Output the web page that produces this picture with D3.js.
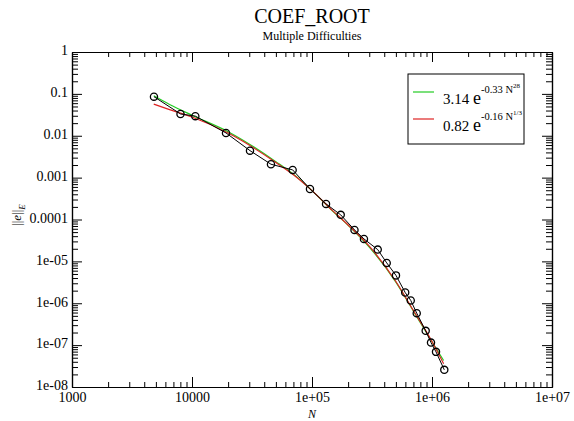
<!DOCTYPE html>
<html><head><meta charset="utf-8">
<script src="https://cdn.jsdelivr.net/npm/d3@7"></script>
<style>
body{margin:0;background:#fff;}
svg{display:block;}
</style></head>
<body><svg id="c" width="574" height="421"></svg>
<script>
// Data
const sampleN = [4820, 8020, 10660, 19200, 30430, 45500, 69000, 96200, 130900, 173500, 226000, 271000, 353000, 419500, 501000, 598000, 665000, 746000, 886000, 981000, 1080000, 1266000];
const sampleErr = [0.0858, 0.0331, 0.0294, 0.01167, 0.00441, 0.00209, 0.00153, 0.000537, 0.000236, 0.000129, 5.65e-5, 3.44e-5, 1.91e-5, 9.2e-6, 4.63e-6, 1.80e-6, 1.17e-6, 5.8e-7, 2.19e-7, 1.15e-7, 6.9e-8, 2.57e-8];
const fitN = [4800, 6500, 10000, 20000, 50000, 70000, 100000, 150000, 200000, 300000, 500000, 700000, 1000000, 1250000];
const greenFit = [0.090, 0.056, 0.031, 0.0125, 0.0024, 0.00120, 4.9e-4, 1.55e-4, 7.3e-5, 2.2e-5, 3.2e-6, 6.5e-7, 1.20e-7, 4.3e-8];
const redFit = [0.057, 0.042, 0.028, 0.0116, 0.0023, 0.00117, 4.9e-4, 1.58e-4, 7.4e-5, 2.3e-5, 3.3e-6, 6.7e-7, 1.22e-7, 3.6e-8];
const xTickLabels = ["1000", "10000", "1e+05", "1e+06", "1e+07"];
const yTickLabels = ["1e-08", "1e-07", "1e-06", "1e-05", "0.0001", "0.001", "0.01", "0.1", "1"];
const legendLabels = [
  {base: "3.14 ", e: "e", sup: "-0.33 N", sup2: "28"},
  {base: "0.82 ", e: "e", sup: "-0.16 N", sup2: "1/3"}
];
const legendColors = ["#22cc22", "#dd2222"];

const FONT = "'Liberation Serif', 'Times New Roman', 'DejaVu Serif', serif";
const svg = d3.select("#c");
const L = 72, R = 552, T = 52, B = 387;
const x = d3.scaleLog().domain([1000, 1e7]).range([L, R]);
const y = d3.scaleLog().domain([1e-8, 1]).range([B, T]);

const xMajor = [1e3, 1e4, 1e5, 1e6, 1e7];
const yMajor = d3.range(-8, 1).map(e => Math.pow(10, e));
const xMinor = [], yMinor = [];
for (let e = 3; e < 7; e++) for (let k = 2; k <= 9; k++) xMinor.push(k * Math.pow(10, e));
for (let e = -8; e < 0; e++) for (let k = 2; k <= 9; k++) yMinor.push(k * Math.pow(10, e));

function styleAxis(g) {
  g.attr("font-family", FONT);
  g.selectAll("path.domain").attr("stroke", "#000").attr("stroke-width", 1.2);
  g.selectAll(".tick line").attr("stroke", "#000").attr("stroke-width", 1);
  g.selectAll("text").attr("font-size", 14).attr("font-family", FONT).attr("fill", "#000");
}
// bottom
svg.append("g").attr("transform", `translate(0,${B})`)
  .call(d3.axisBottom(x).tickValues(xMajor).tickSize(-10).tickSizeOuter(0).tickPadding(5)
    .tickFormat((d, i) => xTickLabels[i]))
  .call(styleAxis);
svg.append("g").attr("transform", `translate(0,${B})`)
  .call(d3.axisBottom(x).tickValues(xMinor).tickSize(-5).tickSizeOuter(0).tickFormat(""))
  .call(styleAxis);
// top
svg.append("g").attr("transform", `translate(0,${T})`)
  .call(d3.axisTop(x).tickValues(xMajor).tickSize(-10).tickSizeOuter(0).tickFormat(""))
  .call(styleAxis);
svg.append("g").attr("transform", `translate(0,${T})`)
  .call(d3.axisTop(x).tickValues(xMinor).tickSize(-5).tickSizeOuter(0).tickFormat(""))
  .call(styleAxis);
// left
svg.append("g").attr("transform", `translate(${L},0)`)
  .call(d3.axisLeft(y).tickValues(yMajor).tickSize(-10).tickSizeOuter(0).tickPadding(4)
    .tickFormat((d, i) => yTickLabels[i]))
  .call(styleAxis)
  .call(g => g.selectAll("text").attr("dy", "0.2em"));
svg.append("g").attr("transform", `translate(${L},0)`)
  .call(d3.axisLeft(y).tickValues(yMinor).tickSize(-6).tickSizeOuter(0).tickFormat(""))
  .call(styleAxis);
// right
svg.append("g").attr("transform", `translate(${R},0)`)
  .call(d3.axisRight(y).tickValues(yMajor).tickSize(-10).tickSizeOuter(0).tickFormat(""))
  .call(styleAxis);
svg.append("g").attr("transform", `translate(${R},0)`)
  .call(d3.axisRight(y).tickValues(yMinor).tickSize(-6).tickSizeOuter(0).tickFormat(""))
  .call(styleAxis);

// fit curves
const fitLine = d3.line().x(d => x(d[0])).y(d => y(d[1])).curve(d3.curveMonotoneX);
svg.append("path").datum(fitN.map((n, i) => [n, greenFit[i]]))
  .attr("d", fitLine).attr("fill", "none").attr("stroke", legendColors[0]).attr("stroke-width", 1.2);
svg.append("path").datum(fitN.map((n, i) => [n, redFit[i]]))
  .attr("d", fitLine).attr("fill", "none").attr("stroke", legendColors[1]).attr("stroke-width", 1.2);

// data line + circles
const dataLine = d3.line().x(d => x(d[0])).y(d => y(d[1]));
const pts = sampleN.map((n, i) => [n, sampleErr[i]]);
svg.append("path").datum(pts).attr("d", dataLine).attr("fill", "none").attr("stroke", "#000").attr("stroke-width", 1);
svg.append("g").selectAll("circle").data(pts).join("circle")
  .attr("cx", d => x(d[0])).attr("cy", d => y(d[1])).attr("r", 3.6)
  .attr("fill", "none").attr("stroke", "#000").attr("stroke-width", 1.3);

// titles
svg.append("text").attr("x", 312).attr("y", 23).attr("text-anchor", "middle")
  .attr("font-size", 20).text("COEF_ROOT");
svg.append("text").attr("x", 312).attr("y", 40).attr("text-anchor", "middle")
  .attr("font-size", 12).text("Multiple Difficulties");
// axis labels
svg.append("text").attr("x", 312).attr("y", 418).attr("text-anchor", "middle")
  .attr("font-size", 12).attr("font-style", "italic").text("N");
const yl = svg.append("text").attr("transform", "translate(21,215) rotate(-90)").attr("text-anchor", "middle")
  .attr("font-size", 13);
yl.append("tspan").text("||");
yl.append("tspan").attr("font-style", "italic").text("e");
yl.append("tspan").text("||");
yl.append("tspan").attr("font-style", "italic").attr("font-size", 9).attr("dy", 4).text("E");

// legend
const lg = svg.append("g");
lg.append("rect").attr("x", 408).attr("y", 74).attr("width", 116).attr("height", 70)
  .attr("fill", "#fff").attr("stroke", "#000").attr("stroke-width", 1);
legendLabels.forEach((lab, i) => {
  const yy = 92 + i * 27;
  lg.append("line").attr("x1", 413).attr("x2", 434).attr("y1", yy).attr("y2", yy)
    .attr("stroke", legendColors[i]).attr("stroke-width", 1.2);
  const t = lg.append("text").attr("x", 443).attr("y", yy + 12);
  t.append("tspan").attr("font-size", 15).text(lab.base);
  t.append("tspan").attr("font-size", 18).text(lab.e);
  t.append("tspan").attr("font-size", 10.5).attr("dy", -11).text(lab.sup);
  t.append("tspan").attr("font-size", 7).attr("dy", -5).text(lab.sup2);
});

svg.selectAll("text").attr("font-family", FONT).attr("fill", "#000");
</script></body></html>
